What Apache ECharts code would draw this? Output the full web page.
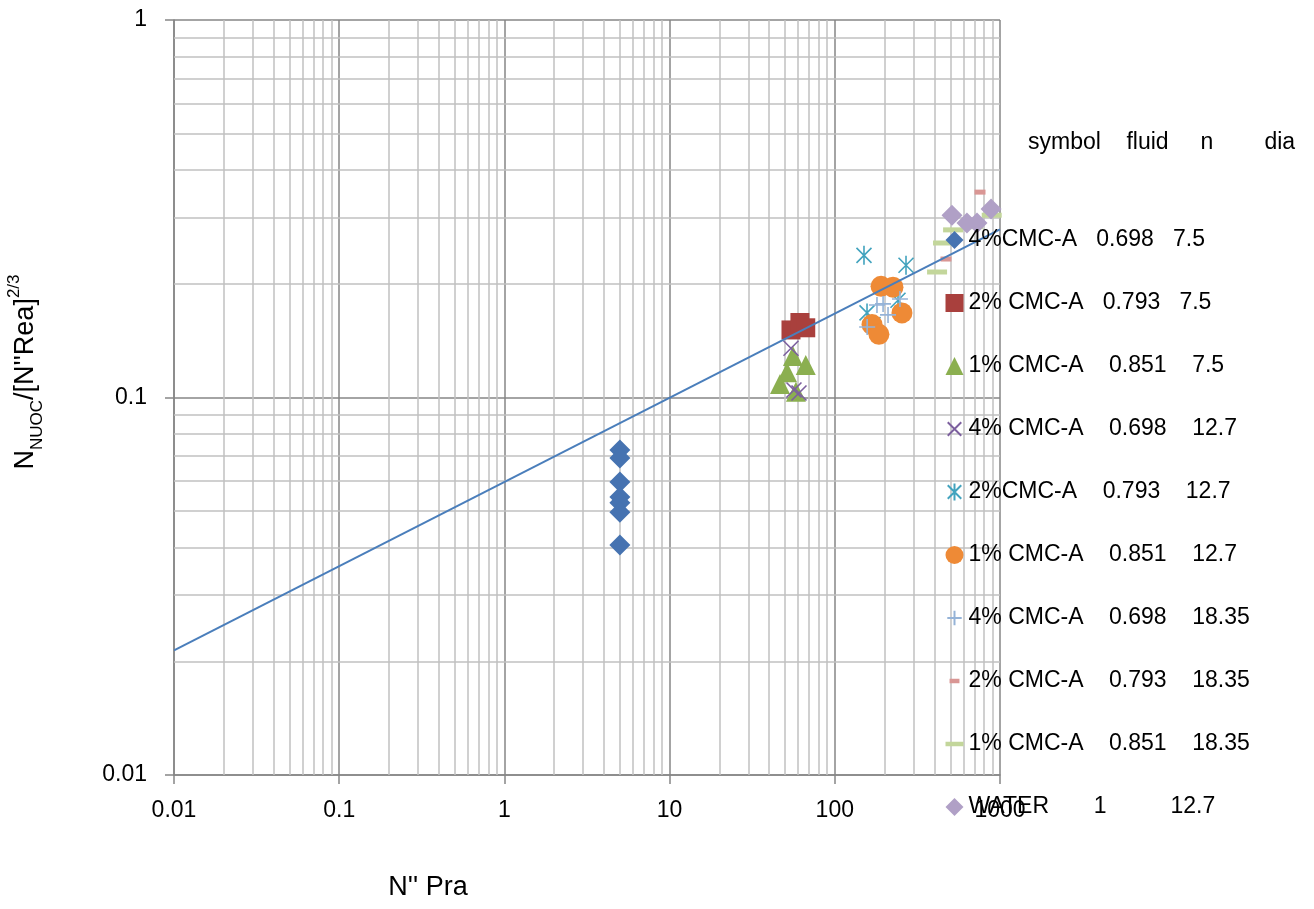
<!DOCTYPE html>
<html>
<head>
<meta charset="utf-8">
<script src="https://cdn.jsdelivr.net/npm/echarts@6/dist/echarts.min.js"></script>
<style>
  html, body { margin: 0; padding: 0; background: #ffffff; }
  #chart { width: 1314px; height: 909px; }
</style>
</head>
<body>
<div id="chart"></div>
<script>
// Axis tick labels
const xTickLabels = ['0.01', '0.1', '1', '10', '100', '1000'];
const yTickLabels = ['0.01', '0.1', '1'];

// Legend entries: symbol  fluid  n  dia
const legendNames = [
  '4%CMC-A   0.698   7.5',
  '2% CMC-A   0.793   7.5',
  '1% CMC-A    0.851    7.5',
  '4% CMC-A    0.698    12.7',
  '2%CMC-A    0.793    12.7',
  '1% CMC-A    0.851    12.7',
  '4% CMC-A    0.698    18.35',
  '2% CMC-A    0.793    18.35',
  '1% CMC-A    0.851    18.35',
  'WATER       1          12.7'
];
const legendHeader = 'symbol    fluid     n        dia';

// N'' Pra (x) and N_NUOC/[N''Rea]^(2/3) (y) for each fluid / tube diameter
const pra_4cmc_75 = [5.0, 5.0, 5.0, 5.0, 5.0, 5.0, 5.0];
const nu_4cmc_75  = [0.0726, 0.0691, 0.0597, 0.0545, 0.0526, 0.0497, 0.0407];

const pra_2cmc_75 = [54.3, 61.5, 66.7];
const nu_2cmc_75  = [0.151, 0.158, 0.153];

const pra_1cmc_75 = [55.8, 66.7, 51.4, 46.6, 58.2];
const nu_1cmc_75  = [0.1288, 0.1219, 0.1167, 0.1086, 0.1035];

const pra_4cmc_127 = [54.3, 56.6, 60.7];
const nu_4cmc_127  = [0.135, 0.1047, 0.1028];

const pra_2cmc_127 = [150.2, 269.8, 156.7, 170.3, 241.3];
const nu_2cmc_127  = [0.238, 0.224, 0.1675, 0.156, 0.181];

const pra_1cmc_127 = [190.5, 225, 255, 168, 185];
const nu_1cmc_127  = [0.197, 0.196, 0.1675, 0.156, 0.147];

const pra_4cmc_1835 = [157, 180, 196, 210, 248];
const nu_4cmc_1835  = [0.1537, 0.1758, 0.177, 0.1655, 0.1824];

const pra_2cmc_1835 = [757, 471];
const nu_2cmc_1835  = [0.350, 0.2327];

const pra_1cmc_1835 = [416, 452, 520, 687, 891];
const nu_1cmc_1835  = [0.215, 0.2566, 0.278, 0.2835, 0.304];

const pra_water = [512, 631, 726, 883];
const nu_water  = [0.304, 0.290, 0.290, 0.3157];

// Power-law correlation line end points
const trendX = [0.01, 1000];
const trendY = [0.0214, 0.279];

const FONT = '"Liberation Sans", Arial, sans-serif';

function pairs(xs, ys) { return xs.map((x, i) => [x, ys[i]]); }

// Minor log gridlines (2..9 within each decade)
function minorValues(fromExp, toExp) {
  const out = [];
  for (let e = fromExp; e < toExp; e++) {
    for (let k = 2; k <= 9; k++) out.push(k * Math.pow(10, e));
  }
  return out;
}
const xMinor = minorValues(-2, 3);
const yMinor = minorValues(-2, 0);

function tickLabel(list) {
  return function (v) {
    const hit = list.find(s => Math.abs(Math.log10(parseFloat(s)) - Math.log10(v)) < 1e-6);
    return hit || '';
  };
}

// Symbols drawn inside a 20x20 box so chart markers and legend icons agree
const SYM_X = 'path://M0 0M20 20M2.5 2.5L17.5 17.5M17.5 2.5L2.5 17.5';
const SYM_STAR = 'path://M0 0M20 20M2.5 2.5L17.5 17.5M17.5 2.5L2.5 17.5M10 0.5L10 19.5';
const SYM_PLUS = 'path://M0 0M20 20M10 2L10 18M2 10L18 10';
const SYM_SHORT_DASH = 'path://M0 0M20 20M4.5 7.5L15.5 7.5L15.5 12.5L4.5 12.5Z';
const SYM_LONG_DASH = 'path://M0 0M20 20M0 7.5L20 7.5L20 12.5L0 12.5Z';

function filled(name, xs, ys, symbol, size, color) {
  return {
    type: 'scatter', name: name, data: pairs(xs, ys),
    symbol: symbol, symbolSize: size, z: 2,
    itemStyle: { color: color, opacity: 1 },
    emphasis: { disabled: true }
  };
}
function stroked(name, xs, ys, symbol, size, color, width) {
  return {
    type: 'scatter', name: name, data: pairs(xs, ys),
    symbol: symbol, symbolSize: size, z: 2,
    itemStyle: { color: 'none', borderColor: color, borderWidth: width, opacity: 1 },
    emphasis: { disabled: true }
  };
}

const series = [
  {
    type: 'scatter', data: [], silent: true, z: 1,
    markLine: {
      silent: true, z: 1, animation: false,
      symbol: ['none', 'none'],
      label: { show: false },
      lineStyle: { color: '#C0C0C0', width: 1.5, type: 'solid' },
      emphasis: { disabled: true },
      data: xMinor.map(v => ({ xAxis: v })).concat(yMinor.map(v => ({ yAxis: v })))
    }
  },
  filled(legendNames[0], pra_4cmc_75, nu_4cmc_75, 'diamond', 21, '#4673B1'),
  filled(legendNames[1], pra_2cmc_75, nu_2cmc_75, 'rect', 19, '#A9403D'),
  filled(legendNames[2], pra_1cmc_75, nu_1cmc_75, 'triangle', 20, '#8BAF50'),
  stroked(legendNames[3], pra_4cmc_127, nu_4cmc_127, SYM_X, 20, '#7C5F9E', 1.6),
  stroked(legendNames[4], pra_2cmc_127, nu_2cmc_127, SYM_STAR, 20, '#42A3BE', 1.6),
  filled(legendNames[5], pra_1cmc_127, nu_1cmc_127, 'circle', 21, '#EE8A36'),
  stroked(legendNames[6], pra_4cmc_1835, nu_4cmc_1835, SYM_PLUS, 20, '#95B3D7', 1.6),
  filled(legendNames[7], pra_2cmc_1835, nu_2cmc_1835, SYM_SHORT_DASH, 20, '#D99694'),
  filled(legendNames[8], pra_1cmc_1835, nu_1cmc_1835, SYM_LONG_DASH, 20, '#C3D69B'),
  filled(legendNames[9], pra_water, nu_water, 'diamond', 21, '#B0A0C6'),
  {
    type: 'line', name: 'trend', data: pairs(trendX, trendY),
    symbol: 'none', showSymbol: false, silent: true, z: 3,
    lineStyle: { color: '#4A7EBB', width: 2 },
    emphasis: { disabled: true }
  }
];

const axisGray = '#868686';

const option = {
  animation: false,
  backgroundColor: '#ffffff',
  grid: { left: 174, right: 314, top: 20, bottom: 134, containLabel: false, outerBoundsMode: 'none' },
  xAxis: {
    type: 'log', logBase: 10, min: 0.01, max: 1000,
    axisLine: { show: true, onZero: false, lineStyle: { color: axisGray, width: 1.5 } },
    axisTick: { show: true, length: 9, lineStyle: { color: axisGray, width: 1.5 } },
    axisLabel: { margin: 24, fontSize: 23, fontFamily: FONT, color: '#000', formatter: tickLabel(xTickLabels) },
    splitLine: { show: true, lineStyle: { color: axisGray, width: 1.5 } }
  },
  yAxis: {
    type: 'log', logBase: 10, min: 0.01, max: 1,
    axisLine: { show: true, onZero: false, lineStyle: { color: axisGray, width: 1.5 } },
    axisTick: { show: true, length: 9, lineStyle: { color: axisGray, width: 1.5 } },
    axisLabel: { margin: 27, fontSize: 23, fontFamily: FONT, color: '#000', formatter: tickLabel(yTickLabels) },
    splitLine: { show: true, lineStyle: { color: axisGray, width: 1.5 } }
  },
  legend: {
    orient: 'vertical', left: 943, top: 228.5, padding: 0,
    itemWidth: 18, itemHeight: 18, itemGap: 40, itemTextGap: 5,
    selectedMode: false,
    data: legendNames,
    textStyle: { fontSize: 23, lineHeight: 23, fontFamily: FONT, color: '#000' }
  },
  graphic: [
    {
      type: 'text', x: 1028, y: 143, silent: true, z: 10,
      style: { text: legendHeader, fontSize: 23, fontFamily: FONT, fill: '#000', align: 'left', verticalAlign: 'middle' }
    },
    {
      type: 'text', x: 428, y: 888, silent: true, z: 10,
      style: { text: "N'' Pra", fontSize: 27, fontFamily: FONT, fill: '#000', align: 'center', verticalAlign: 'middle' }
    },
    {
      type: 'text', x: 26, y: 372, rotation: Math.PI / 2, silent: true, z: 10,
      style: {
        text: "{a|N}{b|NUOC}{a|/[N''Rea]}{c|2/3}",
        align: 'center', verticalAlign: 'middle', fill: '#000',
        rich: {
          a: { fontSize: 27, fontFamily: FONT, fill: '#000', lineHeight: 40, verticalAlign: 'middle' },
          b: { fontSize: 17, fontFamily: FONT, fill: '#000', verticalAlign: 'bottom' },
          c: { fontSize: 17, fontFamily: FONT, fill: '#000', verticalAlign: 'top' }
        }
      }
    }
  ],
  series: series
};

const chart = echarts.init(document.getElementById('chart'), null, { renderer: 'canvas' });
chart.setOption(option);
</script>
</body>
</html>
